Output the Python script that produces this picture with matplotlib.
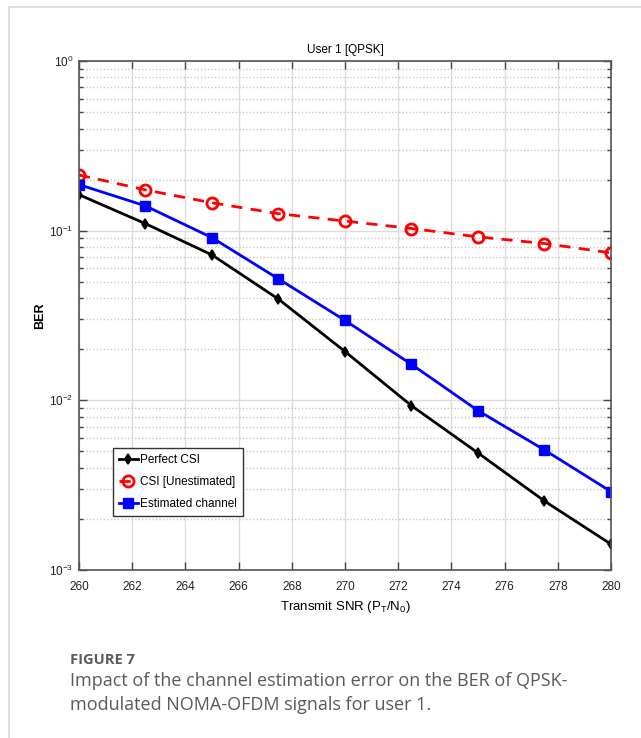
import matplotlib
matplotlib.use("Agg")
import matplotlib.pyplot as plt
from matplotlib.lines import Line2D
from matplotlib.ticker import LogLocator, NullFormatter, FixedLocator

# ---- data ----
snr = [260, 262.5, 265, 267.5, 270, 272.5, 275, 277.5, 280]
ber_perfect = [0.163, 0.110, 0.072, 0.0395, 0.0194, 0.0093, 0.0049, 0.00255, 0.00142]
ber_unest = [0.213, 0.174, 0.146, 0.126, 0.114, 0.103, 0.092, 0.084, 0.074]
ber_est = [0.187, 0.140, 0.091, 0.052, 0.0296, 0.0163, 0.0087, 0.0051, 0.0029]
labels = ["Perfect CSI", "CSI [Unestimated]", "Estimated channel"]
xticks = list(range(260, 281, 2))
title = "User 1 [QPSK]"
xlabel = r"Transmit SNR (P$_\mathregular{T}$/N$_\mathregular{0}$)"
ylabel = "BER"
cap_head = "FIGURE 7"
cap_lines = ["Impact of the channel estimation error on the BER of QPSK-",
             "modulated NOMA-OFDM signals for user 1."]

narrow = ["Liberation Sans", "DejaVu Sans"]
plt.rcParams["mathtext.fontset"] = "custom"
plt.rcParams["mathtext.rm"] = "Liberation Sans"

fig = plt.figure(figsize=(6.41, 7.38), dpi=100)
ax = fig.add_axes([0.1232, 0.2276, 0.830, 0.6897])

ax.plot(snr, ber_perfect, color="black", lw=2, marker="d", ms=5, mew=1.2,
        label=labels[0])
ax.plot(snr, ber_unest, color="red", lw=2, ls=(0, (4, 3)), marker="o", ms=8,
        mfc="none", mew=2, label=labels[1])
ax.plot(snr, ber_est, color="blue", lw=2, marker="s", ms=6.5, label=labels[2])

ax.set_yscale("log")
ax.set_xlim(260, 280)
ax.set_ylim(1e-3, 1)
ax.xaxis.set_major_locator(FixedLocator(xticks))
ax.yaxis.set_major_locator(LogLocator(base=10, numticks=10))
ax.yaxis.set_minor_locator(LogLocator(base=10, subs=range(2, 10), numticks=20))
ax.yaxis.set_minor_formatter(NullFormatter())

ax.grid(True, which="major", axis="both", color="#dcdcdc", lw=1.0, ls="-")
ax.grid(True, which="minor", axis="y", color="#c8c8c8", lw=1.0, ls=(0, (1, 1.5)))

ax.tick_params(which="both", direction="in", top=True, right=True,
               color="#444444")
ax.tick_params(which="major", length=6, width=1)
ax.tick_params(which="minor", length=3, width=1)
ax.tick_params(axis="x", pad=8)
ax.tick_params(axis="y", pad=4)
for sp in ax.spines.values():
    sp.set_color("#555555")
    sp.set_linewidth(1.2)

for lab in ax.get_xticklabels() + ax.get_yticklabels():
    lab.set_family(narrow)
    lab.set_fontsize(8.5)
    lab.set_color("#222222")

ax.set_title(title, family=narrow, fontsize=8.5, pad=6)
ax.set_xlabel(xlabel, family=narrow, fontsize=9.5, labelpad=4)
ax.set_ylabel(ylabel, family=narrow, fontsize=9, fontweight="bold", labelpad=2)

leg = ax.legend(loc="lower left", bbox_to_anchor=(0.064, 0.106),
                prop={"family": narrow, "size": 8.5}, frameon=True,
                fancybox=False, edgecolor="#333333", framealpha=1,
                handlelength=1.6, handletextpad=0.2, borderpad=0.5,
                labelspacing=0.85, borderaxespad=0)
leg.get_frame().set_linewidth(1.0)

# frame decoration
fig.add_artist(Line2D([9/641, 1], [1 - 7/738, 1 - 7/738], color="#d9d9d9", lw=1.2,
                      transform=fig.transFigure))
fig.add_artist(Line2D([9/641, 9/641], [0, 1 - 7/738], color="#d9d9d9", lw=1.2,
                      transform=fig.transFigure))

fig.text(70/641, 1 - 660/738, cap_head, family=["Open Sans", "DejaVu Sans"],
         fontsize=10.5, fontweight="bold", color="#5a5a5a", va="center")
fig.text(70/641, 1 - 681/738, cap_lines[0], family=["Open Sans", "DejaVu Sans"],
         fontsize=13, color="#5a5a5a", va="center")
fig.text(70/641, 1 - 705/738, cap_lines[1], family=["Open Sans", "DejaVu Sans"],
         fontsize=13, color="#5a5a5a", va="center")

fig.savefig("out.png", dpi=100)
